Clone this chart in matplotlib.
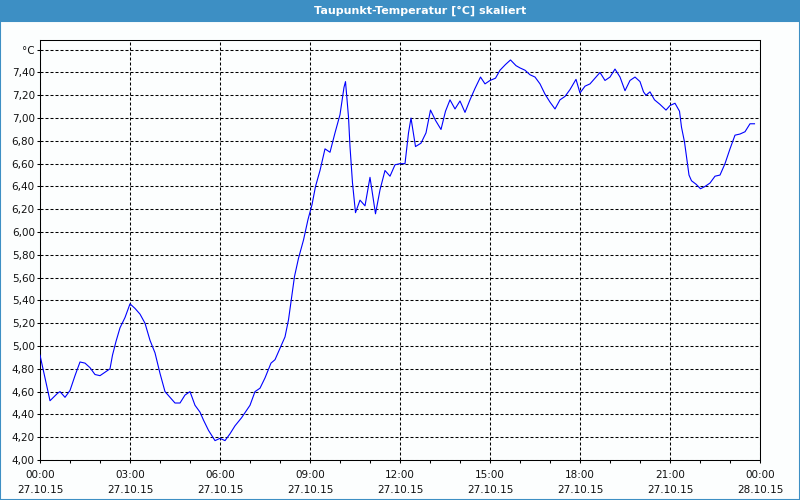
import matplotlib
matplotlib.use('Agg')
import matplotlib.pyplot as plt
from matplotlib.patches import Rectangle
import numpy as np

# ---------------- data ----------------
minutes = [0, 20, 35, 40, 50, 60, 70, 80, 90, 100, 110, 120, 130, 140, 145, 152,
           160, 170, 180, 190, 200, 210, 220, 230, 240, 250, 260, 270, 280, 290,
           300, 310, 320, 327, 337, 350, 360, 370, 380, 390, 403, 420, 430, 440,
           450, 462, 470, 480, 490, 497, 503, 509, 517, 527, 536, 544, 551, 560,
           570, 580, 590, 600, 608, 611, 613, 617, 620, 625, 631, 640, 650, 660,
           671, 680, 690, 700, 710, 720, 730, 737, 742, 746, 751, 762, 772, 781,
           791, 802, 811, 820, 830, 840, 850, 860, 870, 881, 890, 900, 911, 920,
           931, 941, 952, 960, 970, 980, 990, 1000, 1010, 1020, 1030, 1040, 1050,
           1060, 1072, 1080, 1090, 1100, 1110, 1120, 1130, 1140, 1150, 1160, 1170,
           1180, 1190, 1200, 1207, 1212, 1220, 1229, 1240, 1252, 1260, 1270, 1279,
           1283, 1289, 1294, 1298, 1303, 1312, 1321, 1330, 1340, 1350, 1360, 1370,
           1380, 1390, 1400, 1410, 1420, 1429]
dew_point = [4.92, 4.52, 4.585, 4.60, 4.55, 4.61, 4.74, 4.86, 4.85, 4.81, 4.75, 4.74,
             4.77, 4.80, 4.92, 5.04, 5.16, 5.25, 5.37, 5.33, 5.28, 5.20, 5.05, 4.94,
             4.76, 4.60, 4.55, 4.50, 4.50, 4.57, 4.60, 4.48, 4.42, 4.35, 4.26, 4.17,
             4.19, 4.17, 4.23, 4.30, 4.37, 4.48, 4.60, 4.63, 4.72, 4.85, 4.88, 4.98,
             5.08, 5.23, 5.42, 5.61, 5.77, 5.93, 6.11, 6.24, 6.40, 6.54, 6.73, 6.70,
             6.87, 7.03, 7.27, 7.32, 7.22, 7.01, 6.75, 6.43, 6.17, 6.28, 6.23, 6.48,
             6.16, 6.37, 6.54, 6.49, 6.59, 6.60, 6.60, 6.87, 7.00, 6.89, 6.75, 6.78,
             6.87, 7.07, 6.98, 6.90, 7.06, 7.16, 7.08, 7.15, 7.05, 7.16, 7.26, 7.36,
             7.30, 7.33, 7.35, 7.42, 7.47, 7.51, 7.46, 7.44, 7.42, 7.38, 7.36, 7.30,
             7.21, 7.14, 7.08, 7.16, 7.19, 7.25, 7.34, 7.22, 7.28, 7.30, 7.35, 7.40,
             7.33, 7.36, 7.43, 7.36, 7.24, 7.33, 7.36, 7.32, 7.23, 7.20, 7.23, 7.16,
             7.12, 7.07, 7.11, 7.13, 7.06, 6.92, 6.79, 6.63, 6.50, 6.45, 6.42, 6.38,
             6.40, 6.43, 6.49, 6.50, 6.60, 6.73, 6.85, 6.86, 6.88, 6.95, 6.95]

x_tick_hours = [0, 3, 6, 9, 12, 15, 18, 21, 24]
x_tick_times = ["00:00", "03:00", "06:00", "09:00", "12:00", "15:00", "18:00", "21:00", "00:00"]
x_tick_dates = ["27.10.15", "27.10.15", "27.10.15", "27.10.15", "27.10.15",
                "27.10.15", "27.10.15", "27.10.15", "28.10.15"]
y_ticks = [4.0, 4.2, 4.4, 4.6, 4.8, 5.0, 5.2, 5.4, 5.6, 5.8, 6.0, 6.2, 6.4, 6.6,
           6.8, 7.0, 7.2, 7.4, 7.6]
y_tick_labels = ["4,00", "4,20", "4,40", "4,60", "4,80", "5,00", "5,20", "5,40",
                 "5,60", "5,80", "6,00", "6,20", "6,40", "6,60", "6,80", "7,00",
                 "7,20", "7,40", "°C"]
title = "Taupunkt-Temperatur [°C] skaliert"

# ---------------- style ----------------
plt.rcParams['lines.scale_dashes'] = False
plt.rcParams['font.family'] = ['DejaVu Sans']
bar_color = '#3d8fc4'
bg = '#fcfefe'

fig = plt.figure(figsize=(8, 5), dpi=100, facecolor=bg)
bar_h = 21 / 500
fig.patches.append(Rectangle((0, 1 - bar_h), 1, bar_h, transform=fig.transFigure,
                             facecolor=bar_color, edgecolor='none', zorder=0))
fig.patches.append(Rectangle((0, 0), 1, 1 - bar_h, transform=fig.transFigure,
                             facecolor='none', edgecolor=bar_color, linewidth=1.5, zorder=1))
fig.text(420 / 800, 1 - 10.5 / 500, title, color='white', fontweight='bold',
         ha='center', va='center', fontsize=8)

ax = fig.add_axes([0.05, 0.08, 0.9, 0.84])
ax.set_facecolor(bg)
ax.plot(np.array(minutes) / 60.0, dew_point, color='#0000ff', linewidth=0.8, zorder=3)
ax.set_xlim(0, 24)
ax.set_ylim(4.0, 7.685)

ax.set_xticks(x_tick_hours)
ax.set_xticklabels([f"{t}\n{d}" for t, d in zip(x_tick_times, x_tick_dates)],
                   linespacing=1.6)
ax.set_xticks(list(range(25)), minor=True)
ax.set_yticks(y_ticks)
ax.set_yticklabels(y_tick_labels)

ax.grid(True, which='major', color='black', linestyle=(0, (2.16, 1.44)), linewidth=0.75, zorder=2)
for s in ax.spines.values():
    s.set_linewidth(0.75)
    s.set_color('black')
ax.tick_params(which='both', direction='out', length=2.2, width=0.75, color='black',
               labelsize=7.5, labelcolor='#111111', pad=1.5)
ax.tick_params(axis='x', which='major', pad=5)

fig.savefig('out.png', dpi=100, facecolor=bg)
